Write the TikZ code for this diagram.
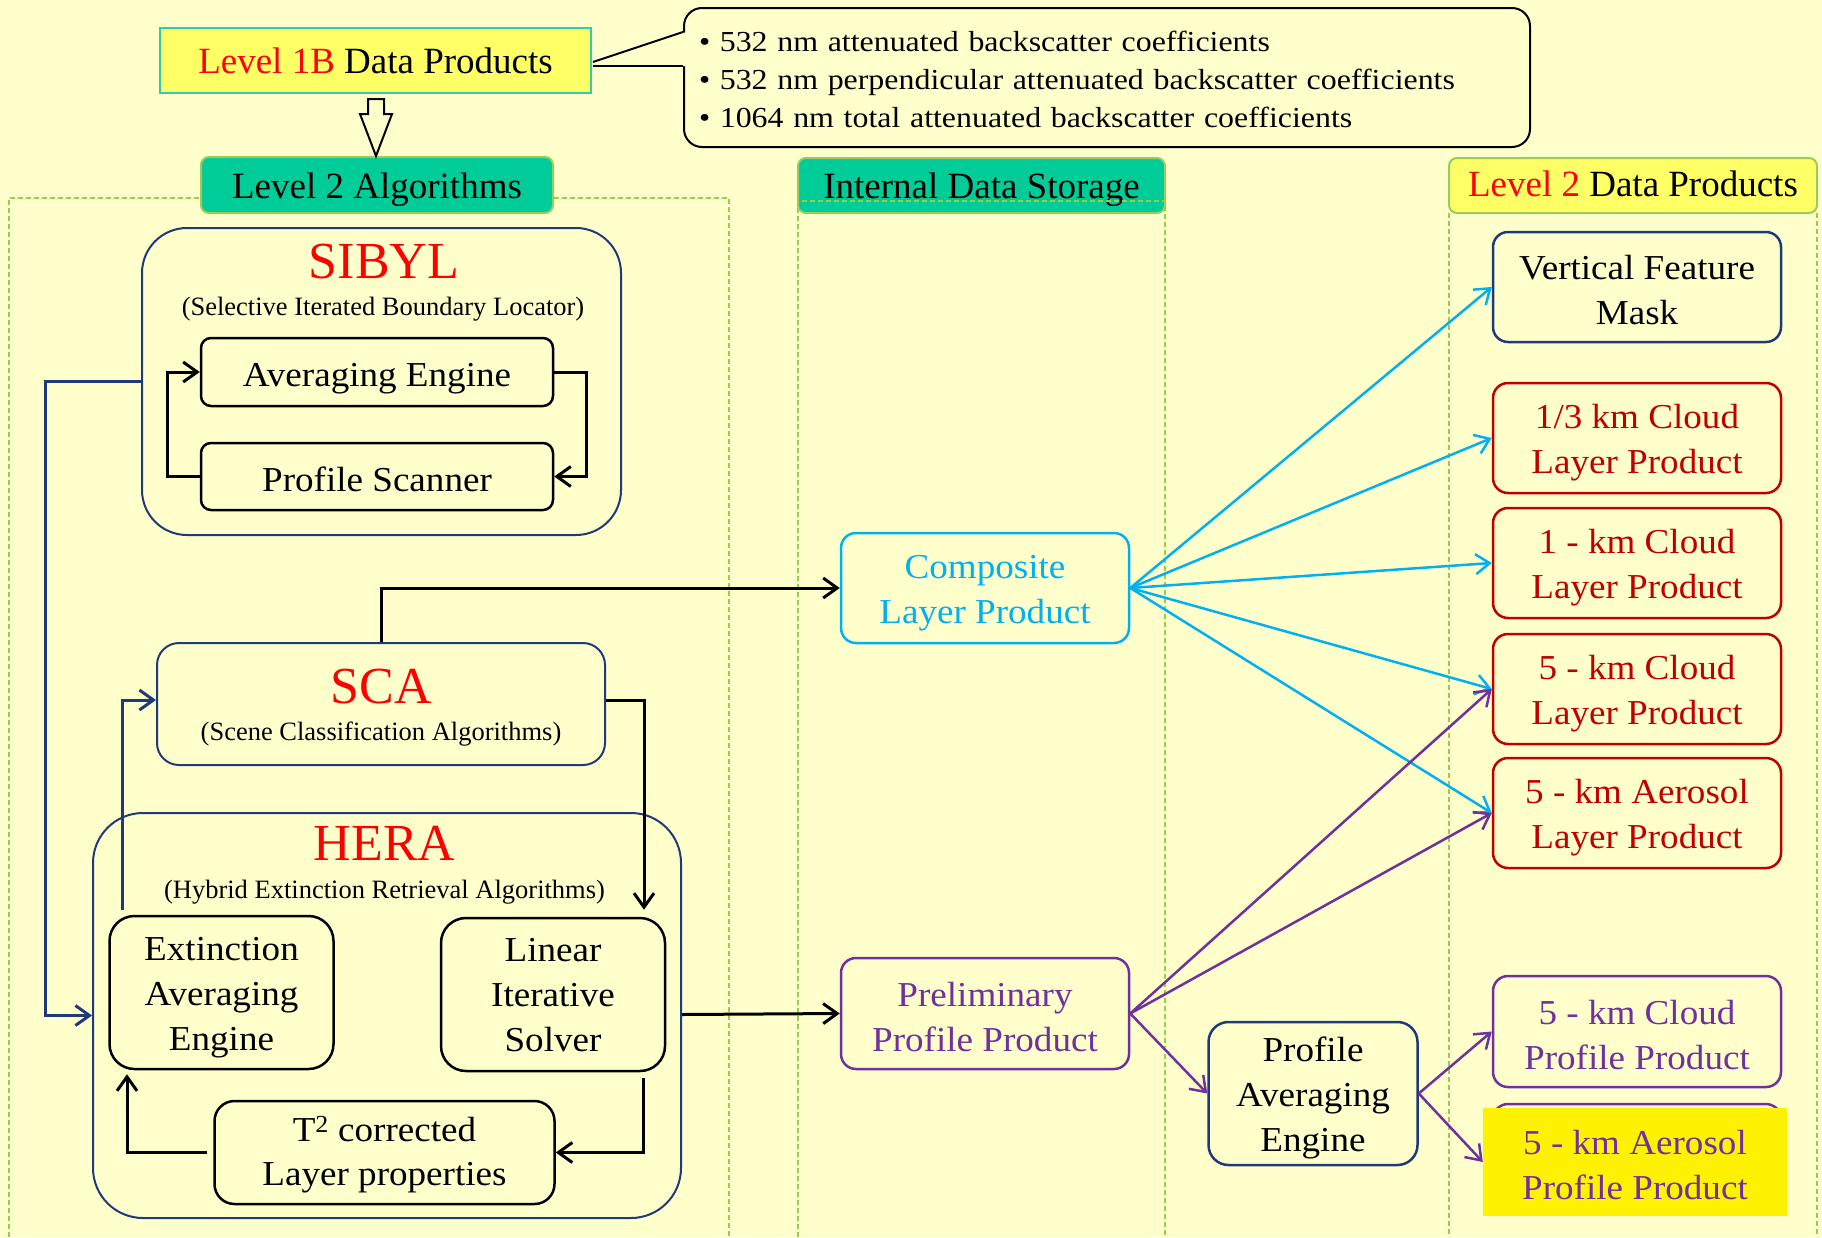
\documentclass[tikz,border=0pt]{standalone}
\usepackage{fontspec}
\setmainfont{Liberation Serif}
\newfontfamily\prodfamily[FakeStretch=1.06]{Liberation Serif}
\newfontfamily\callfamily[FakeStretch=1.1]{Liberation Serif}
\usetikzlibrary{arrows.meta,calc}

\definecolor{bg}{HTML}{FFFFCC}
\definecolor{hyellow}{HTML}{FFFF66}
\definecolor{tealg}{HTML}{00CC99}
\definecolor{lgreen}{HTML}{92D050}
\definecolor{hdrborder}{HTML}{9BCB5A}
\definecolor{lbborder}{HTML}{33CCAA}
\definecolor{navy}{HTML}{1F3A7A}
\definecolor{dred}{HTML}{C00000}
\definecolor{purp}{HTML}{7030A0}
\definecolor{sky}{HTML}{00B0F0}

\newcommand\fsHead{\fontsize{37}{44}\selectfont}
\newcommand\fsBox{\prodfamily\fontsize{35}{45}\selectfont}
\newcommand\fsBoxT{\prodfamily\fontsize{35}{44}\selectfont}
\newcommand\fsTitle{\fontsize{52}{60}\selectfont}
\newcommand\fsSub{\fontsize{26.5}{32}\selectfont}
\newcommand\fsCall{\callfamily\fontsize{29}{38}\selectfont}

\newcommand\twostr{\rule[-3pt]{0pt}{36pt}}
\newcommand\thrstr{\rule[-3pt]{0pt}{36pt}}
\newcommand\linstr{\rule[-5pt]{0pt}{33pt}}
\newcommand\tstr{\rule[-3pt]{0pt}{32.5pt}}
\newcommand\cstr{\rule[-4pt]{0pt}{31pt}}

\tikzset{
  barbtip/.style={-{Straight Barb[length=14pt,width=20pt]}},
  blkarr/.style={draw=black, line width=3pt, barbtip},
  navyarr/.style={draw=navy, line width=3pt, barbtip},
  bluearr/.style={draw=sky, line width=2.5pt, barbtip},
  purparr/.style={draw=purp, line width=2.5pt, barbtip},
  dashcol/.style={draw=lgreen, line width=1.5pt, dash pattern=on 5pt off 3pt},
  hdr/.style={line width=2pt, rounded corners=8pt, minimum height=55pt, font=\fsHead, text height=26pt, text depth=1pt},
  pbox/.style={draw, fill=bg, line width=2.5pt, rounded corners=15pt, minimum width=288pt, minimum height=110pt, align=center, font=\fsBox},
  bigbox/.style={draw=navy, fill=bg, line width=2pt},
  inbox/.style={draw=black, fill=bg, line width=2.5pt, align=center, font=\fsBox},
  onebox/.style={draw=black, fill=bg, line width=2.5pt, font=\fsBox, rounded corners=10pt, minimum width=352pt, text height=30pt, text depth=1pt},
  ttl/.style={text=red, font=\fsTitle, anchor=base},
  subt/.style={font=\fsSub, anchor=base},
}

\begin{document}
\begin{tikzpicture}[x=1pt,y=-1pt, every node/.style={inner sep=0pt}]
\useasboundingbox (0,0) rectangle (1822,1237);
\fill[bg] (0,0) rectangle (1822,1237);

% column frames (left and right drawn under their headers)
\draw[dashcol] (9,1237) -- (9,198) -- (729,198) -- (729,1237);
\draw[dashcol] (1449,213) -- (1449,1237);
\draw[dashcol] (1817,213) -- (1817,1237);

% headers
\node[hdr, draw=lbborder, fill=hyellow, rounded corners=0pt, minimum width=431pt, minimum height=65pt] (l1b) at (375.5,60.5) {\textcolor{red}{Level 1B} Data Products};
\node[hdr, draw=hdrborder, fill=tealg, minimum width=352pt, minimum height=56pt, text height=27pt, text depth=1pt] (l2a) at (377,185) {Level 2 Algorithms};
\node[hdr, draw=hdrborder, fill=tealg, minimum width=367pt] (ids) at (981.5,185.5) {Internal Data Storage};
\node[hdr, draw=hdrborder, fill=hyellow, minimum width=368pt, text height=25pt, text depth=4pt] (l2dp) at (1633,185.5) {\textcolor{red}{Level 2} Data Products};

\draw[dashcol] (798,1237) -- (798,201) -- (1165,201) -- (1165,1237);

% callout
\node[draw=black, line width=2pt, rounded corners=18pt, fill=bg, minimum width=846pt, minimum height=139pt, text width=816pt, inner xsep=15pt, inner ysep=0pt, align=left, font=\fsCall] (call) at (1107,77.5)
  {\cstr\textbullet~532 nm attenuated backscatter coefficients\\
   \cstr\textbullet~532 nm perpendicular attenuated backscatter coefficients\\
   \cstr\textbullet~1064 nm total attenuated backscatter coefficients};
\fill[bg] ($(call.west)+(-0.5,-45)$) -- ($(l1b.east)+(1.5,1.5)$) -- ($(l1b.east)+(1.5,5.5)$) -- ($(call.west)+(-0.5,-11.5)$) -- ($(call.west)+(3,-11.5)$) -- ($(call.west)+(3,-45)$) -- cycle;
\draw[line width=2pt] ($(call.west)+(0,-45.5)$) -- ($(l1b.east)+(1,1.5)$);
\draw[line width=2pt] ($(l1b.east)+(1,5.5)$) -- ($(call.west)+(0,-11.5)$);

% hollow arrow from Level 1B to Level 2 Algorithms
\coordinate (ha) at ($(l1b.south)+(0.5,5)$);
\draw[fill=bg, line width=2pt, line join=miter] (ha) ++(-8,0) -- ++(16,0) -- ++(0,15) -- ++(8,0) -- ++(-16,42) -- ++(-16,-42) -- ++(8,0) -- cycle;

% Level 2 products
\node[pbox, draw=navy] (vfm) at (1637,287) {\twostr Vertical Feature\\\twostr Mask};
\node[pbox, draw=dred, text=dred] (c13) at (1637,438) {\twostr 1/3 km Cloud\\\twostr Layer Product};
\node[pbox, draw=dred, text=dred] (c1) at (1637,563) {\twostr 1 - km Cloud\\\twostr Layer Product};
\node[pbox, draw=dred, text=dred] (c5) at (1637,689) {\twostr 5 - km Cloud\\\twostr Layer Product};
\node[pbox, draw=dred, text=dred] (a5) at (1637,813) {\twostr 5 - km Aerosol\\\twostr Layer Product};
\node[pbox, draw=purp, text=purp, minimum height=111pt] (cp5) at (1637,1031.5) {\twostr 5 - km Cloud\\\twostr Profile Product};
\node[pbox, draw=purp] (ap5box) at (1637,1159) {};
\node[fill=yellow, minimum width=304pt, minimum height=108pt, align=center, font=\fsBox, text=purp] (ap5) at (1635,1162) {\twostr 5 - km Aerosol\\\twostr Profile Product};

% internal storage
\node[pbox, draw=sky, text=sky] (comp) at (985,588) {\twostr Composite\\\twostr Layer Product};
\node[pbox, draw=purp, text=purp, minimum height=111pt] (prel) at (985,1013.5) {\twostr Preliminary\\\twostr Profile Product};
\node[pbox, draw=navy, minimum width=209pt, minimum height=143pt, rounded corners=20pt] (pae) at (1313,1093.5) {\thrstr Profile\\\thrstr Averaging\\\thrstr Engine};

% Level 2 algorithms
\node[bigbox, rounded corners=45pt, minimum width=479pt, minimum height=307pt] (sibyl) at (381.5,381.5) {};
\node[ttl] (sibylt) at (384,278.5) {SIBYL};
\node[subt] (sibyls) at (383,315.5) {(Selective Iterated Boundary Locator)};
\node[onebox, minimum height=68pt] (avg) at (377,372) {Averaging Engine};
\node[onebox, minimum height=67pt] (pscan) at (377,476.5) {Profile Scanner};

\node[bigbox, rounded corners=22pt, minimum width=448pt, minimum height=122pt] (sca) at (381,704) {};
\node[ttl] (scat) at (381,703) {SCA};
\node[subt] (scas) at (381,740.5) {(Scene Classification Algorithms)};

\node[bigbox, rounded corners=50pt, minimum width=588pt, minimum height=405pt] (hera) at (387,1015.5) {};
\node[ttl] (herat) at (384.5,860) {HERA};
\node[subt] (heras) at (384.5,898.5) {(Hybrid Extinction Retrieval Algorithms)};
\node[inbox, rounded corners=25pt, minimum width=224pt, minimum height=153pt] (ext) at (221.5,992.5) {\thrstr Extinction\\\thrstr Averaging\\\thrstr Engine};
\node[inbox, rounded corners=25pt, minimum width=224pt, minimum height=153pt] (lin) at (553,994.5) {\linstr Linear\\\linstr Iterative\\\linstr Solver};
\node[inbox, rounded corners=20pt, minimum width=340pt, minimum height=103pt, font=\fsBoxT] (t2) at (384.5,1152.5) {\tstr T\textsuperscript{2} corrected\\\tstr Layer properties};

% connectors inside SIBYL
\draw[blkarr] (avg.east) -- ++(32,0) |- (pscan.east);
\draw[blkarr] (pscan.west) -- ++(-32,0) |- (avg.west);

% SIBYL to HERA
\draw[navyarr] (sibyl.west) -- ++(-96,0) |- (hera.west);

% SCA connectors
\draw[blkarr] (sca.north) |- (comp.west);
\draw[blkarr] ($(sca.east)+(0,-4)$) -| ($(lin.north)+(91,-7)$);
\draw[navyarr] ($(ext.north)+(-99.5,-5)$) |- ($(sca.west)+(0,-4)$);

% HERA loop
\draw[blkarr] ($(lin.south)+(90,6)$) |- (t2.east);
\draw[blkarr] ($(t2.west)+(-6,0)$) -| ($(ext.south)+(-94.5,4)$);
\draw[blkarr] ($(hera.east)+(0,-1)$) -- (prel.west);

% products
\foreach \t in {vfm,c13,c1,c5,a5} \draw[bluearr] (comp.east) -- (\t.west);
\draw[purparr] (prel.east) -- (c5.west);
\draw[purparr] (prel.east) -- (a5.west);
\draw[purparr] (prel.east) -- (pae.west);
\draw[purparr] (pae.east) -- (cp5.west);
\draw[purparr] (pae.east) -- (ap5.west);
\end{tikzpicture}
\end{document}
